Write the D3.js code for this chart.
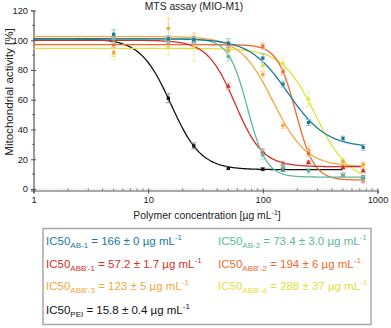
<!DOCTYPE html>
<html><head><meta charset="utf-8">
<script src="https://cdn.jsdelivr.net/npm/d3@7"></script>
<style>body{margin:0;background:#fff}svg{display:block;font-family:"Liberation Sans",Arial,sans-serif}</style>
</head><body>
<svg id="c" width="391" height="328"></svg>
<script>
// ---- data ----
const conc = [5, 15, 25, 50, 100, 150, 250, 500, 750];
const seriesNames = ["AB-1", "AB-2", "ABB'-1", "ABB'-2", "ABB'-3", "ABB'-4", "PEI"];
const seriesColors = ["#1b7a99", "#5cb8a2", "#d62f2a", "#f26a2e", "#f6a73d", "#dfe23c", "#111111"];
const valsAB1  = [104, 101, 100.5, 98, 88, 70.5, 44.7, 34, 28];
const errAB1   = [3, 2, 2, 3, 3, 2, 2, 1.5, 2];
const valsAB2  = [101, 100.5, 100, 89, 23, 14.7, 12.2, 9, 7];
const errAB2   = [3, 2, 2, 3, 3, 2, 1.5, 1.5, 1.5];
const valsABB1 = [100, 99.5, 99, 69, 25, 17, 17.8, 14.5, 12.2];
const errABB1  = [2, 2, 2, 2, 2, 1, 1, 1, 1];
const valsABB2 = [97, 98, 98, 97, 96, 79, 24, 9.5, 5.5];
const errABB2  = [2, 2, 2, 2, 2, 2, 2, 1.5, 1.5];
const valsABB3 = [92, 108, 102, 93, 77, 42.7, 26, 18.5, 16.5];
const errABB3  = [3, 7, 3, 3, 2, 2, 3, 1.5, 1.5];
const valsABB4 = [91, 95, 95, 94, 83, 84.5, 60.5, 19, 15.5];
const errABB4  = [4, 5, 9, 4, 3, 4, 5, 2, 2];
const valsPEI  = [100, 61, 29, 14, 13.3, 13, null, 9.5, 7.8];
const errPEI   = [2, 3, 2, 1, 1, 1, null, 1, 1];
// dose-response fit parameters
const fitTop    = [101, 101, 100, 97, 102.5, 94.5, 101];
const fitBottom = [28, 8, 15, 6, 15, 5, 13];
const fitIC50   = [166, 73.4, 57.2, 194, 123, 288, 15.8];
const fitHill   = [2.6, 5.3, 3.6, 5.4, 3, 3, 3.3];
const fitEnd    = [750, 750, 750, 750, 750, 750, 500];
// legend texts
const icValues = ["166 ± 0", "73.4 ± 3.0", "57.2 ± 1.7", "194 ± 6", "123 ± 5", "288 ± 37", "15.8 ± 0.4"];
const xTicks = [1, 10, 100, 1000];
const yTicks = [0, 20, 40, 60, 80, 100, 120];

const vals = [valsAB1, valsAB2, valsABB1, valsABB2, valsABB3, valsABB4, valsPEI];
const errs = [errAB1, errAB2, errABB1, errABB2, errABB3, errABB4, errPEI];

const svg = d3.select("#c");
const x = d3.scaleLog().domain([1, 1000]).range([33.5, 377.5]);
const y = d3.scaleLinear().domain([-1, 120]).range([190.5, 10.5]);

// zero dotted line
svg.append("line").attr("x1", x(1)).attr("x2", x(1000)).attr("y1", y(0)).attr("y2", y(0))
  .attr("stroke", "#bbb").attr("stroke-width", 0.8).attr("stroke-dasharray", "1,1.5");

// axes
const axCol = "#555";
const gx = svg.append("g").attr("transform", `translate(0,${y(-1)})`);
gx.call(d3.axisBottom(x).tickValues(xTicks).tickFormat(d3.format("d")).tickSize(3).tickPadding(3));
const minorX = [];
for (let p = 1; p < 1000; p *= 10) for (let k = 2; k <= 9; k++) minorX.push(p * k);
gx.selectAll(".mx").data(minorX).enter().append("line").attr("class", "mx")
  .attr("x1", d => x(d)).attr("x2", d => x(d)).attr("y1", -2).attr("y2", 0).attr("stroke", axCol).attr("stroke-width", 0.8);
gx.selectAll(".tick line").attr("y1", -2);

const gy = svg.append("g").attr("transform", `translate(${x(1)},0)`);
gy.call(d3.axisLeft(y).tickValues(yTicks).tickSize(2.5).tickPadding(3));
gy.selectAll(".tick line").attr("x1", 2.5);
const minorY = d3.range(10, 120, 20);
gy.selectAll(".my").data(minorY).enter().append("line").attr("class", "my")
  .attr("x1", -1.5).attr("x2", 1.5).attr("y1", d => y(d)).attr("y2", d => y(d)).attr("stroke", axCol).attr("stroke-width", 0.8);
[gx, gy].forEach(g => {
  g.select(".domain").attr("stroke", axCol).attr("stroke-width", 1.2);
  g.selectAll(".tick line").attr("stroke", axCol).attr("stroke-width", 1);
  g.selectAll("text").attr("font-size", 9.3).attr("fill", "#222").attr("font-family", "Liberation Sans, Arial, sans-serif");
});

// axis titles
svg.append("text").attr("x", 194).attr("y", 10).attr("text-anchor", "middle").attr("font-size", 10.3).attr("fill", "#222").text("MTS assay (MIO-M1)");
const xl = svg.append("text").attr("x", 207).attr("y", 219).attr("text-anchor", "middle").attr("font-size", 10.4).attr("fill", "#222");
xl.append("tspan").text("Polymer concentration [µg mL");
xl.append("tspan").attr("font-size", 7).attr("dy", -4).text("-1");
xl.append("tspan").attr("dy", 4).text("]");
svg.append("text").attr("transform", "translate(13,92) rotate(-90)").attr("text-anchor", "middle").attr("font-size", 11.6).attr("fill", "#222").text("Mitochondrial activity [%]");

// fit curves
const line = d3.line().x(d => x(d[0])).y(d => y(d[1]));
const order = [6, 5, 4, 3, 2, 1, 0];
order.forEach(i => {
  const pts = [];
  const n = 200;
  for (let j = 0; j <= n; j++) {
    const c = Math.pow(10, Math.log10(fitEnd[i]) * j / n);
    const v = fitBottom[i] + (fitTop[i] - fitBottom[i]) / (1 + Math.pow(c / fitIC50[i], fitHill[i]));
    pts.push([c, v]);
  }
  svg.append("path").attr("d", line(pts)).attr("fill", "none").attr("stroke", seriesColors[i]).attr("stroke-width", 1.3);
});

// error bars and points
const symTypes = [d3.symbolSquare, d3.symbolCircle, d3.symbolTriangle, d3.symbolSquare, d3.symbolCircle, d3.symbolTriangle, d3.symbolSquare];
order.forEach(i => {
  const light = d3.interpolateRgb(seriesColors[i], "#ffffff")(0.5);
  const g = svg.append("g");
  const data = conc.map((c, k) => ({c, v: vals[i][k], e: errs[i][k]})).filter(d => d.v != null);
  data.forEach(d => {
    const cx = x(d.c);
    g.append("line").attr("x1", cx).attr("x2", cx).attr("y1", y(d.v - d.e)).attr("y2", y(d.v + d.e)).attr("stroke", light).attr("stroke-width", 0.9);
    [d.v - d.e, d.v + d.e].forEach(b => g.append("line").attr("x1", cx - 2.5).attr("x2", cx + 2.5).attr("y1", y(b)).attr("y2", y(b)).attr("stroke", light).attr("stroke-width", 0.9));
    g.append("path").attr("d", d3.symbol().type(symTypes[i]).size(11)()).attr("transform", `translate(${cx},${y(d.v)})`).attr("fill", seriesColors[i]);
  });
});

// legend box
svg.append("rect").attr("x", 43).attr("y", 228.5).attr("width", 328).attr("height", 96).attr("fill", "#fff").attr("stroke", "#a8a8a8").attr("stroke-width", 1.5);
const legPos = [[46, 245], [218, 245], [46, 267.5], [218, 267.5], [46, 290], [218, 290], [46, 313.5]];
seriesNames.forEach((nm, i) => {
  const t = svg.append("text").attr("x", legPos[i][0]).attr("y", legPos[i][1]).attr("font-size", 11.5).attr("fill", seriesColors[i]);
  t.append("tspan").text("IC50");
  t.append("tspan").attr("font-size", 8).attr("dy", 3.2).text(nm);
  t.append("tspan").attr("dy", -3.2).text(` = ${icValues[i]} µg mL`);
  t.append("tspan").attr("font-size", 8).attr("dy", -4.8).text("-1");
});
</script>
</body></html>
